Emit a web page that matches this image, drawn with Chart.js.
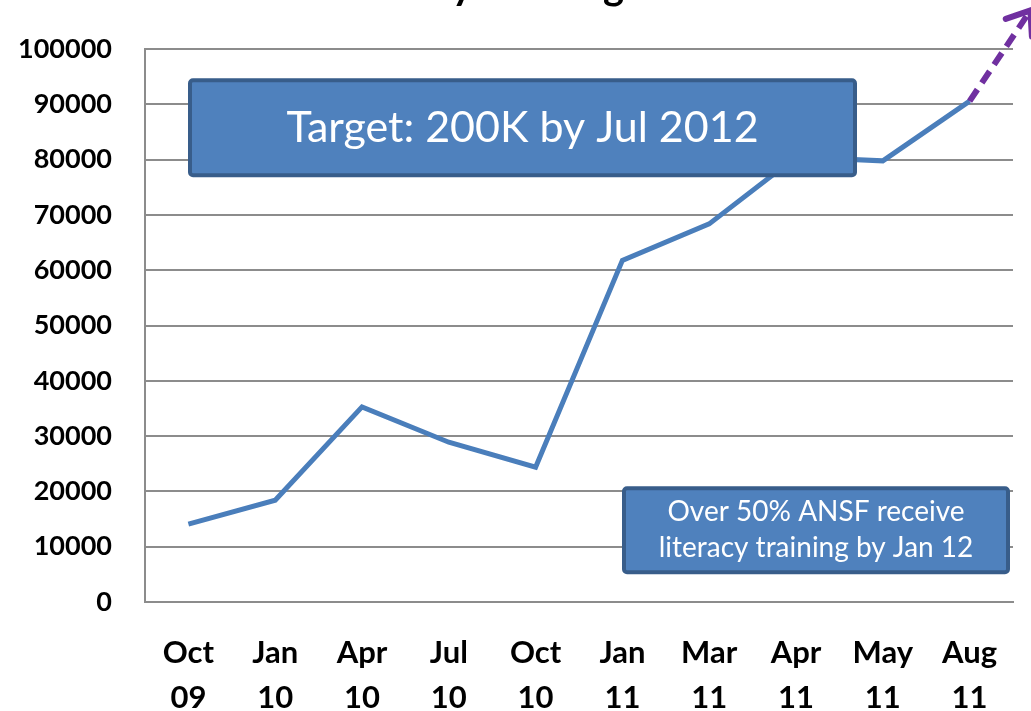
<!DOCTYPE html>
<html>
<head>
<meta charset="utf-8">
<script src="https://cdn.jsdelivr.net/npm/chart.js@4"></script>
<style>
  html, body { margin: 0; padding: 0; background: #fff; }
  #wrap { width: 1031px; height: 711px; position: relative; }
</style>
</head>
<body>
<div id="wrap"><canvas id="Grafico"></canvas></div>
<script>
'use strict';
// dados
const categorias = [['Oct','09'],['Jan','10'],['Apr','10'],['Jul','10'],['Oct','10'],['Jan','11'],['Mar','11'],['Apr','11'],['May','11'],['Aug','11']];
const treinados = [14100, 18400, 35300, 28900, 24400, 61800, 68400, 80500, 79800, 90600];
const tendencia = [[9, 90600], [9.7, 107000]]; // seta tracejada (índice, valor)
const yTicks = { min: 0, max: 100000, step: 10000 };
const titulo = 'Literacy Training';
const caixaMeta = ['Target: 200K by Jul 2012'];
const caixaNota = ['Over 50% ANSF receive', 'literacy training by Jan 12'];

const cinza = '#8c8c8c';

function caixa(ctx, x, y, w, h, linhas, tam, espaco) {
  ctx.save();
  ctx.beginPath();
  ctx.roundRect(x, y, w, h, 3);
  ctx.fillStyle = '#4f81bd';
  ctx.fill();
  ctx.lineWidth = 4;
  ctx.strokeStyle = '#385d8a';
  ctx.stroke();
  ctx.fillStyle = '#fff';
  ctx.font = tam + 'px Lato';
  ctx.textAlign = 'center';
  ctx.textBaseline = 'middle';
  let y0 = y + h / 2 - (linhas.length - 1) * espaco / 2;
  linhas.forEach((l, i) => ctx.fillText(l, x + w / 2, y0 + i * espaco));
  ctx.restore();
}

const extras = {
  id: 'extras',
  afterDatasetsDraw(chart) {
    const ctx = chart.ctx;
    const sx = chart.scales.x, sy = chart.scales.y;
    const a = chart.chartArea;
    // seta de tendência
    const x1 = sx.getPixelForValue(tendencia[0][0]), y1 = sy.getPixelForValue(tendencia[0][1]);
    const x2 = sx.getPixelForValue(tendencia[1][0]), y2 = sy.getPixelForValue(tendencia[1][1]);
    ctx.save();
    ctx.strokeStyle = '#7030a0';
    ctx.lineWidth = 6;
    ctx.setLineDash([14, 8]);
    ctx.beginPath();
    ctx.moveTo(x1, y1);
    ctx.lineTo(x2, y2);
    ctx.stroke();
    ctx.setLineDash([]);
    const ang = Math.atan2(y2 - y1, x2 - x1);
    const L = 26;
    ctx.lineCap = 'round';
    ctx.beginPath();
    ctx.moveTo(x2 - L * Math.cos(ang - 0.65), y2 - L * Math.sin(ang - 0.65));
    ctx.lineTo(x2, y2);
    ctx.lineTo(x2 - L * Math.cos(ang + 0.65), y2 - L * Math.sin(ang + 0.65));
    ctx.stroke();
    ctx.restore();

    // caixas de texto
    caixa(ctx, a.left + 45, a.top + 31, 665, 95, caixaMeta, 43, 0);
    caixa(ctx, a.left + 479, a.top + 439, 384, 84, caixaNota, 28, 36);

    // titulo (cortado no topo)
    ctx.save();
    ctx.fillStyle = '#000';
    ctx.font = 'bold 40px Lato';
    ctx.textAlign = 'right';
    ctx.textBaseline = 'alphabetic';
    ctx.fillText(titulo, 624, -1);
    ctx.restore();
  }
};

new Chart(document.getElementById('Grafico'), {
  type: 'line',
  data: {
    labels: categorias,
    datasets: [{
      data: treinados,
      borderColor: '#4a7ebb',
      borderWidth: 5,
      pointRadius: 0,
      tension: 0,
      fill: false
    }]
  },
  options: {
    responsive: true,
    maintainAspectRatio: false,
    animation: false,
    layout: { padding: { top: 49, right: 18, left: 0, bottom: 0 } },
    plugins: { legend: { display: false }, tooltip: { enabled: false } },
    scales: {
      x: {
        offset: true,
        grid: { display: false, drawTicks: false },
        border: { color: cinza, width: 2 },
        ticks: {
          color: '#000',
          padding: 29,
          maxRotation: 0,
          autoSkip: false,
          font: { family: 'Lato', weight: 'bold', size: 31, lineHeight: 1.45 }
        },
        afterFit: s => { s.height = 109; }
      },
      y: {
        min: yTicks.min,
        max: yTicks.max,
        grid: { color: cinza, lineWidth: 2, drawTicks: false },
        border: { color: cinza, width: 2 },
        ticks: {
          stepSize: yTicks.step,
          color: '#000',
          padding: 33,
          font: { family: 'Lato', weight: 'bold', size: 27 },
          callback: v => String(v)
        },
        afterFit: s => { s.width = 145; }
      }
    }
  },
  plugins: [extras]
});
</script>
</body>
</html>
